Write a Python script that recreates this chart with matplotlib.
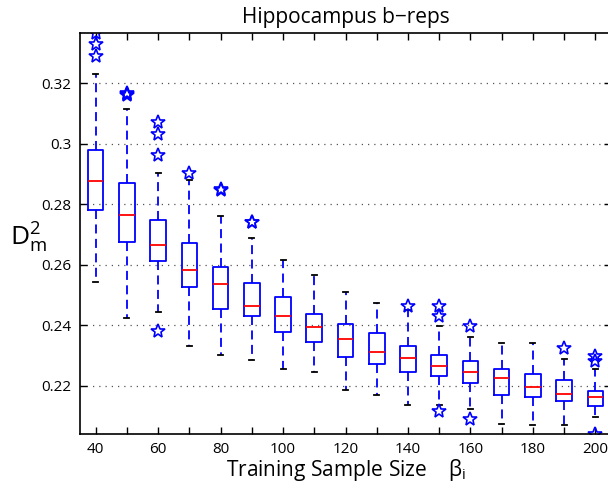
import numpy as np
import matplotlib.pyplot as plt

plt.rcParams['font.family'] = ['Open Sans', 'DejaVu Sans']
plt.rcParams['mathtext.fontset'] = 'custom'
plt.rcParams['mathtext.rm'] = 'Open Sans'
plt.rcParams['mathtext.it'] = 'Open Sans'
plt.rcParams['mathtext.default'] = 'regular'

# training sample sizes
sizes = [40, 50, 60, 70, 80, 90, 100, 110, 120, 130, 140, 150, 160, 170, 180, 190, 200]

# box statistics
medians = [0.2878, 0.2765, 0.2667, 0.2582, 0.2537, 0.2464, 0.2432, 0.2395, 0.2354,
           0.2311, 0.2291, 0.2265, 0.2246, 0.2224, 0.2195, 0.2172, 0.2163]
q1 = [0.2782, 0.2675, 0.2611, 0.2526, 0.2455, 0.2431, 0.2377, 0.2344, 0.2296,
      0.2273, 0.2246, 0.2232, 0.2208, 0.2170, 0.2163, 0.2149, 0.2134]
q3 = [0.2980, 0.2870, 0.2749, 0.2672, 0.2594, 0.2539, 0.2493, 0.2436, 0.2405,
      0.2374, 0.2332, 0.2301, 0.2283, 0.2256, 0.2238, 0.2220, 0.2183]
whisk_lo = [0.2544, 0.2425, 0.2445, 0.2331, 0.2302, 0.2285, 0.2256, 0.2244, 0.2186,
            0.2170, 0.2137, 0.2137, 0.2123, 0.2073, 0.2070, 0.2070, 0.2095]
whisk_hi = [0.3232, 0.3116, 0.2904, 0.2881, 0.2763, 0.2690, 0.2616, 0.2565, 0.2511,
            0.2475, 0.2451, 0.2398, 0.2362, 0.2342, 0.2342, 0.2288, 0.2255]
outliers = [
    [0.3367, 0.3331, 0.3290],
    [0.3170, 0.3166, 0.3163],
    [0.3072, 0.3032, 0.2962, 0.2382],
    [0.2903],
    [0.2851, 0.2849],
    [0.2742, 0.2740],
    [],
    [],
    [],
    [],
    [0.2464],
    [0.2462, 0.2431, 0.2115],
    [0.2398, 0.2089],
    [],
    [],
    [0.2326],
    [0.2298, 0.2283, 0.2039],
]

stats = []
for i in range(len(sizes)):
    stats.append({'med': medians[i], 'q1': q1[i], 'q3': q3[i],
                  'whislo': whisk_lo[i], 'whishi': whisk_hi[i],
                  'fliers': outliers[i]})

fig = plt.figure(figsize=(6.08, 4.96), dpi=100)
ax = fig.add_axes([80 / 608, 62 / 496, 531 / 608, 401 / 496])

ax.bxp(stats, positions=sizes, widths=5, capwidths=1.6, manage_ticks=False,
       boxprops=dict(color='blue', linewidth=1.3),
       whiskerprops=dict(color='blue', linewidth=1.3, linestyle=(0, (5, 3))),
       capprops=dict(color='black', linewidth=1.3),
       medianprops=dict(color='red', linewidth=1.3),
       flierprops=dict(marker='*', markerfacecolor='none', markeredgecolor='blue',
                       markersize=10, markeredgewidth=1.2, linestyle='none'))

ax.set_xlim(35, 205)
ax.set_ylim(0.2040, 0.3367)
ax.set_xticks(sizes)
ax.set_xticklabels([str(s) if s % 20 == 0 else '' for s in sizes])
ax.set_yticks([0.22, 0.24, 0.26, 0.28, 0.30, 0.32])
ax.set_yticklabels(['0.22', '0.24', '0.26', '0.28', '0.3', '0.32'])
ax.tick_params(direction='in', length=5, width=1, labelsize=11, top=True, right=True,
               pad=6)
ax.yaxis.grid(True, linestyle=(0, (1, 4)), color='#555555', linewidth=0.9)
for s in ax.spines.values():
    s.set_linewidth(1.2)

ax.set_title('Hippocampus b\u2212reps', fontsize=15, pad=7)
ax.set_xlabel('Training Sample Size    \u03b2$_i$', fontsize=15, labelpad=0)
fig.text(10 / 608, 1 - 238 / 496, '$D_m^2$', fontsize=19, va='center', ha='left')

fig.savefig('out.png', dpi=100)
